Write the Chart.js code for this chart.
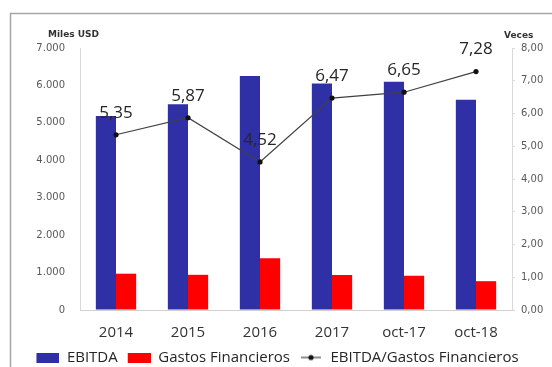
<!DOCTYPE html>
<html>
<head>
<meta charset="utf-8">
<script src="https://cdn.jsdelivr.net/npm/chart.js@4"></script>
<style>
  html, body { margin: 0; padding: 0; background: #fff; }
  canvas { display: block; }
</style>
</head>
<body>
<canvas id="grafico" width="552" height="367"></canvas>
<script>
// Datos
const periodos = ["2014", "2015", "2016", "2017", "oct-17", "oct-18"];
const ebitda = [5180, 5500, 6250, 6050, 6100, 5620];
const gastosFinancieros = [970, 940, 1380, 935, 915, 770];
const cobertura = [5.35, 5.87, 4.52, 6.47, 6.65, 7.28];

const ticksMiles = [0, 1000, 2000, 3000, 4000, 5000, 6000, 7000];
const ticksVeces = [0, 1, 2, 3, 4, 5, 6, 7, 8];

const azul = "#3030a6";
const rojo = "#ff0000";
const linea = "#404040";

// Iconos de la leyenda (con margen a la izquierda)
function iconoCaja(color) {
    const c = document.createElement("canvas");
    c.width = 26; c.height = 10;
    const g = c.getContext("2d");
    g.fillStyle = color;
    g.fillRect(3, 0, 23, 10);
    return c;
}
function iconoLinea() {
    const c = document.createElement("canvas");
    c.width = 26; c.height = 10;
    const g = c.getContext("2d");
    g.strokeStyle = linea; g.lineWidth = 1.2;
    g.beginPath(); g.moveTo(4, 5); g.lineTo(24, 5); g.stroke();
    g.fillStyle = "#111";
    g.beginPath(); g.arc(14, 5, 2.6, 0, Math.PI * 2); g.fill();
    return c;
}
// orden en la leyenda: EBITDA, Gastos, ratio
const ordenLeyenda = [1, 2, 0];
const iconos = { 1: iconoCaja(azul), 2: iconoCaja(rojo), 0: iconoLinea() };

const fmtMiles = v => v === 0 ? "0" : v.toLocaleString("de-DE");
const fmtVeces = v => v.toFixed(2).replace(".", ",");

// Marco, títulos de ejes y etiquetas del ratio
const extras = {
    id: "extras",
    beforeDraw(chart) {
        const ctx = chart.ctx;
        ctx.save();
        ctx.strokeStyle = "#a6a6a6";
        ctx.lineWidth = 1.5;
        ctx.beginPath();
        ctx.moveTo(10.5, 367);
        ctx.lineTo(10.5, 13.5);
        ctx.lineTo(552, 13.5);
        ctx.stroke();
        ctx.restore();
    },
    afterDatasetsDraw(chart) {
        const ctx = chart.ctx;
        ctx.save();
        ctx.fillStyle = "#333";
        ctx.font = "bold 9px 'DejaVu Sans'";
        ctx.textBaseline = "middle";
        ctx.textAlign = "left";
        ctx.fillText("Miles USD", 48, 35);
        ctx.fillText("Veces", 504, 36);

        const meta = chart.getDatasetMeta(0);
        ctx.font = "17px 'Open Sans'";
        ctx.fillStyle = "#262626";
        ctx.textAlign = "center";
        meta.data.forEach((p, i) => {
            ctx.fillText(fmtVeces(cobertura[i]), p.x, p.y - 22);
        });
        ctx.restore();
    }
};

new Chart(document.getElementById("grafico"), {
    data: {
        labels: periodos,
        datasets: [
            {
                type: "line",
                label: "EBITDA/Gastos Financieros",
                data: cobertura,
                yAxisID: "yVeces",
                borderColor: linea,
                borderWidth: 1.2,
                pointRadius: 2.6,
                pointBackgroundColor: "#111",
                pointBorderWidth: 0,
                tension: 0,
                order: 0
            },
            {
                type: "bar",
                label: "EBITDA",
                data: ebitda,
                yAxisID: "yMiles",
                backgroundColor: azul,
                categoryPercentage: 0.56,
                barPercentage: 1,
                order: 1
            },
            {
                type: "bar",
                label: "Gastos Financieros",
                data: gastosFinancieros,
                yAxisID: "yMiles",
                backgroundColor: rojo,
                categoryPercentage: 0.56,
                barPercentage: 1,
                order: 1
            }
        ]
    },
    options: {
        responsive: false,
        animation: false,
        layout: { padding: { top: 48, left: 0, right: 0, bottom: -8 } },
        plugins: {
            tooltip: { enabled: false },
            legend: {
                position: "bottom",
                labels: {
                    usePointStyle: true,
                    pointStyleWidth: 26,
                    padding: 7,
                    color: "#262626",
                    font: { family: "'Open Sans'", size: 15 },
                    sort: (a, b) => ordenLeyenda.indexOf(a.datasetIndex) - ordenLeyenda.indexOf(b.datasetIndex),
                    generateLabels(chart) {
                        const items = Chart.defaults.plugins.legend.labels.generateLabels(chart);
                        items.forEach(it => { it.pointStyle = iconos[it.datasetIndex]; });
                        return items;
                    }
                }
            }
        },
        scales: {
            x: {
                afterFit: s => { s.height = 33; },
                grid: { display: true, drawOnChartArea: false, drawTicks: false },
                border: { display: true, color: "#d0d0d0", width: 1 },
                ticks: { color: "#333", font: { family: "'Open Sans'", size: 15 }, padding: 14 }
            },
            yMiles: {
                position: "left",
                min: 0,
                max: 7000,
                afterBuildTicks: s => { s.ticks = ticksMiles.map(v => ({ value: v })); },
                afterFit: s => { s.width = 80; },
                grid: { display: true, drawOnChartArea: false, drawTicks: false },
                border: { display: true, color: "#d9d9d9" },
                ticks: {
                    color: "#595959",
                    font: { family: "'DejaVu Sans'", size: 10 },
                    padding: 15,
                    callback: v => fmtMiles(v)
                }
            },
            yVeces: {
                position: "right",
                min: 0,
                max: 8,
                afterBuildTicks: s => { s.ticks = ticksVeces.map(v => ({ value: v })); },
                afterFit: s => { s.width = 40; },
                grid: { display: true, drawOnChartArea: false, drawTicks: true, tickLength: 3, color: "#d9d9d9" },
                border: { display: true, color: "#d9d9d9" },
                ticks: {
                    color: "#595959",
                    font: { family: "'DejaVu Sans'", size: 10 },
                    padding: 6,
                    callback: v => fmtVeces(v)
                }
            }
        }
    },
    plugins: [extras]
});
</script>
</body>
</html>
